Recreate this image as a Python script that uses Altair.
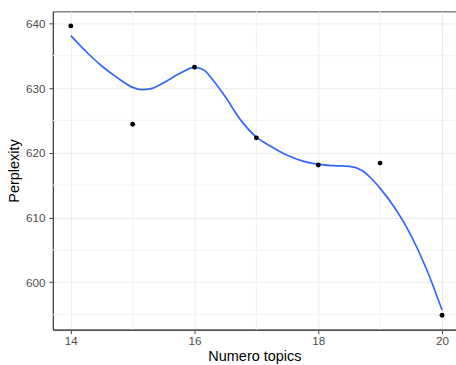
import altair as alt
import pandas as pd

# Observed points
topics = [14, 15, 16, 17, 18, 19, 20]
perplexity = [639.6, 624.4, 633.2, 622.3, 618.1, 618.4, 594.9]

# Smoothed (loess) curve
smooth_x = [14.0, 14.25, 14.5, 14.75, 15.0, 15.15, 15.3, 15.5, 15.75, 16.0,
            16.15, 16.3, 16.5, 16.75, 17.0, 17.25, 17.5, 17.75, 18.0, 18.25,
            18.5, 18.7, 18.85, 19.0, 19.25, 19.5, 19.75, 20.0]
smooth_y = [638.1, 635.6, 633.4, 631.6, 630.1, 629.75, 629.9, 630.8, 632.2, 633.2,
            632.8, 631.2, 628.6, 625.0, 622.4, 620.9, 619.6, 618.7, 618.2, 618.0,
            617.9, 617.3, 616.1, 614.5, 611.3, 607.2, 602.0, 595.7]

x_ticks = [14, 16, 18, 20]
y_ticks = [600, 610, 620, 630, 640]
x_minor = [15, 17, 19]
y_minor = [595, 605, 615, 625, 635]

pts = pd.DataFrame({"x": topics, "y": perplexity})
smooth = pd.DataFrame({"x": smooth_x, "y": smooth_y})
xminor = pd.DataFrame({"x": x_minor})
yminor = pd.DataFrame({"y": y_minor})

xscale = alt.Scale(domain=[13.71, 20.226], nice=False, zero=False)
yscale = alt.Scale(domain=[592.67, 641.84], nice=False, zero=False)

FONT = "Liberation Sans"

xaxis = alt.Axis(values=x_ticks, title="Numero topics", grid=True, gridColor="#EBEBEB",
                 gridWidth=1, domainColor="#444444", domainWidth=1.2, tickColor="#444444",
                 tickSize=4, labelColor="#4D4D4D", labelFontSize=11.7, labelFont=FONT,
                 labelPadding=2, titleFont=FONT, titleFontSize=14.5, titleFontWeight="normal",
                 titleColor="black", titlePadding=2, labelFlush=False)
yaxis = alt.Axis(values=y_ticks, title="Perplexity", grid=True, gridColor="#EBEBEB",
                 gridWidth=1, domainColor="#444444", domainWidth=1.2, tickColor="#444444",
                 tickSize=4, labelColor="#4D4D4D", labelFontSize=11.7, labelFont=FONT,
                 labelPadding=4, titleFont=FONT, titleFontSize=14.5, titleFontWeight="normal",
                 titleColor="black", titlePadding=4, labelFlush=False)

minor_x = alt.Chart(xminor).mark_rule(color="#F2F2F2", strokeWidth=1).encode(
    x=alt.X("x:Q", scale=xscale, axis=xaxis))
minor_y = alt.Chart(yminor).mark_rule(color="#F2F2F2", strokeWidth=1).encode(
    y=alt.Y("y:Q", scale=yscale, axis=yaxis))

line = alt.Chart(smooth).mark_line(color="#3366FF", strokeWidth=1.7, interpolate="monotone").encode(
    x=alt.X("x:Q", scale=xscale, axis=xaxis),
    y=alt.Y("y:Q", scale=yscale, axis=yaxis))

points = alt.Chart(pts).mark_circle(color="black", opacity=1, size=24).encode(
    x=alt.X("x:Q", scale=xscale, axis=xaxis),
    y=alt.Y("y:Q", scale=yscale, axis=yaxis))

chart = alt.layer(minor_x, minor_y, line, points).properties(
    width=404, height=319,
    padding={"left": 53, "top": 11, "right": 0, "bottom": 35},
    autosize=alt.AutoSizeParams(type="none"),
    background="white",
).configure_view(stroke="#444444", strokeWidth=1)

chart.save("out.html", embed_options={"renderer": "svg", "actions": False})
